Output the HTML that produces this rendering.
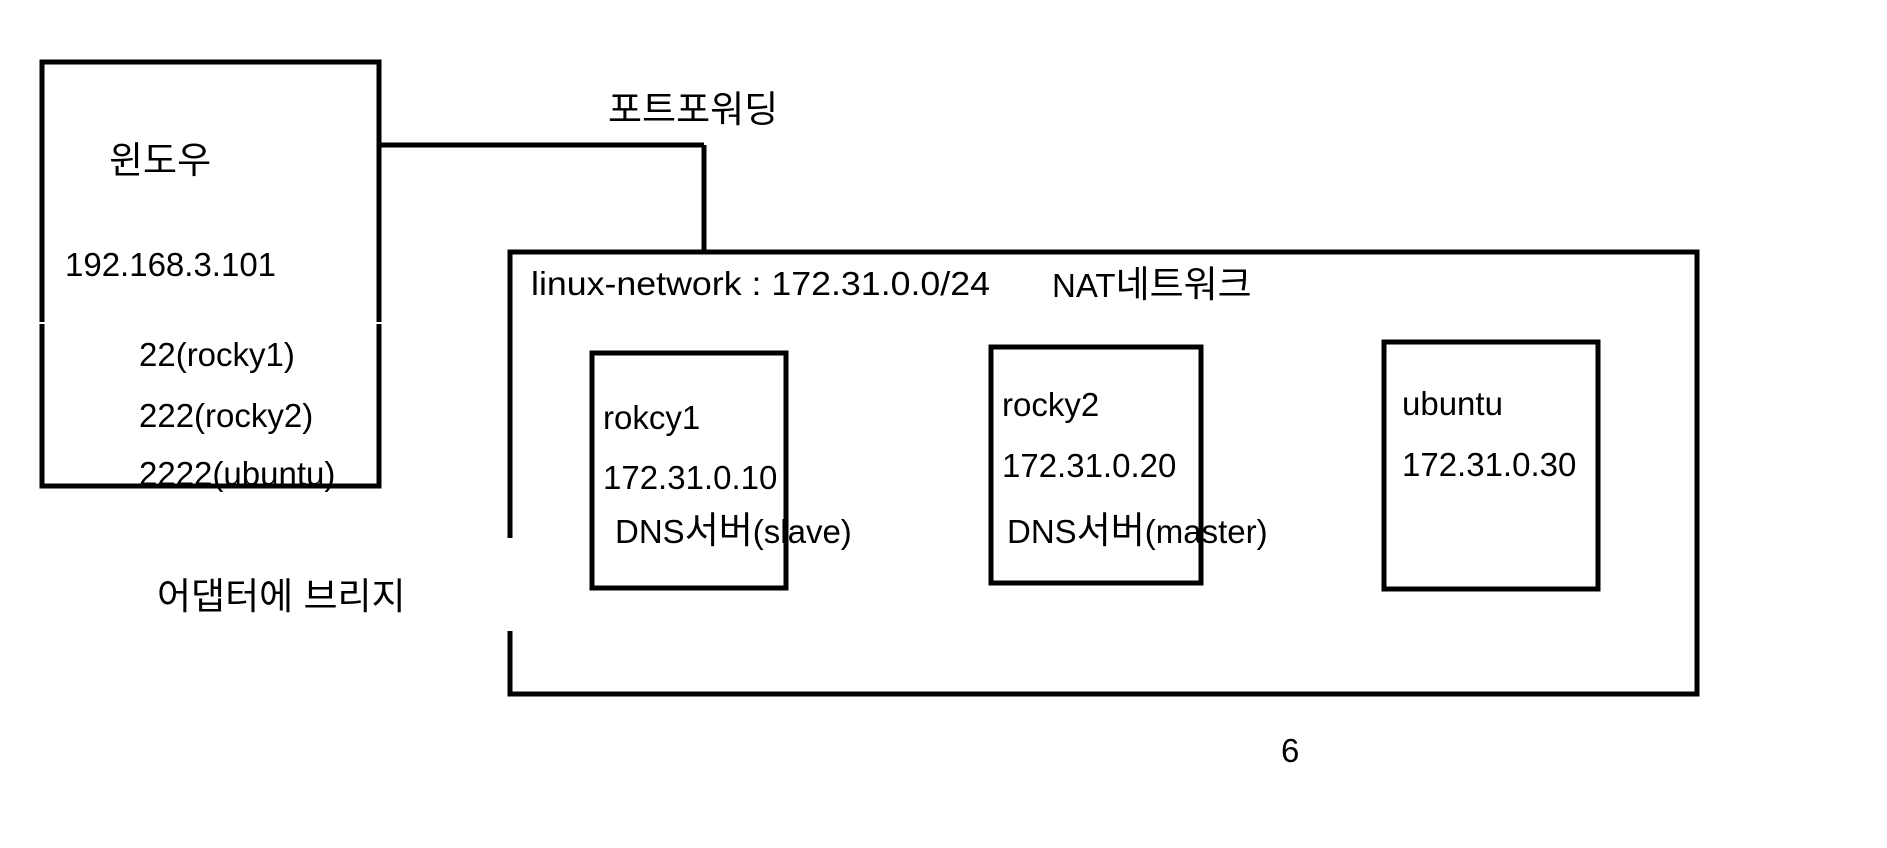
<!DOCTYPE html>
<html><head><meta charset="utf-8"><style>
html,body{margin:0;padding:0;background:#fff;}
svg{display:block;}
text{font-family:"Liberation Sans","Noto Sans CJK KR",sans-serif;font-size:33px;fill:#000;}
.k{font-size:37px;}
</style></head><body>
<svg width="1887" height="848" viewBox="0 0 1887 848" xmlns="http://www.w3.org/2000/svg">
<rect width="1887" height="848" fill="#fff"/>
<text x="109" y="173" class="k">윈도우</text>
<text x="65" y="276">192.168.3.101</text>
<text x="139" y="366">22(rocky1)</text>
<text x="139" y="427">222(rocky2)</text>
<text x="139" y="485">2222(ubuntu)</text>
<text x="157" y="609" class="k">어댑터에 브리지</text>
<text x="608" y="122" class="k">포트포워딩</text>
<text x="531" y="295" textLength="459" lengthAdjust="spacingAndGlyphs">linux-network : 172.31.0.0/24</text>
<text x="1052" y="297">NAT<tspan class="k">네트워크</tspan></text>
<text x="603" y="429">rokcy1</text>
<text x="603" y="489">172.31.0.10</text>
<text x="615" y="543">DNS<tspan class="k">서버</tspan>(slave)</text>
<text x="1002" y="416">rocky2</text>
<text x="1002" y="477">172.31.0.20</text>
<text x="1007" y="543">DNS<tspan class="k">서버</tspan>(master)</text>
<text x="1402" y="415">ubuntu</text>
<text x="1402" y="476">172.31.0.30</text>
<text x="1281" y="762">6</text>
<g stroke="#000" stroke-width="5" fill="none">
<path d="M42 322 V62 H379 V322"/>
<path d="M42 324 V486 H379 V324"/>
<path d="M379 145 H704 M704 145 V252"/>
<path d="M510 538 V252 H1697 V694 H510 V631"/>
<rect x="592" y="353" width="194" height="235"/>
<rect x="991" y="347" width="210" height="236"/>
<rect x="1384" y="342" width="214" height="247"/>
</g>
</svg>
</body></html>
